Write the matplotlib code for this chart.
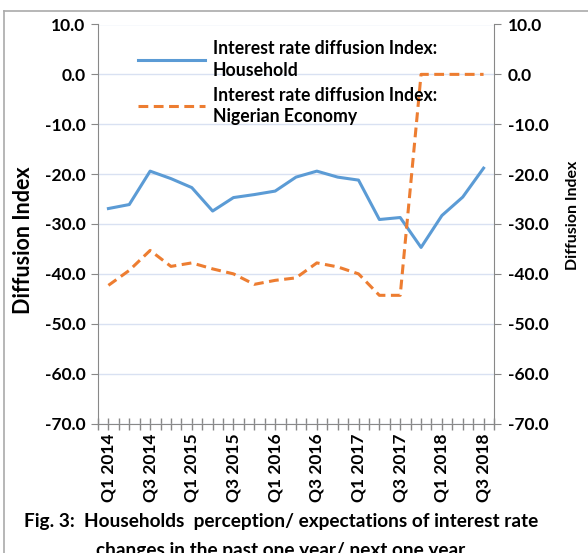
import matplotlib
matplotlib.use('Agg')
import matplotlib.pyplot as plt
from matplotlib.ticker import MultipleLocator, FixedLocator
import numpy as np

plt.rcParams['font.family'] = ['Lato', 'DejaVu Sans']
plt.rcParams['font.weight'] = 'bold'

quarters = ['Q1 2014', 'Q2 2014', 'Q3 2014', 'Q4 2014',
            'Q1 2015', 'Q2 2015', 'Q3 2015', 'Q4 2015',
            'Q1 2016', 'Q2 2016', 'Q3 2016', 'Q4 2016',
            'Q1 2017', 'Q2 2017', 'Q3 2017', 'Q4 2017',
            'Q1 2018', 'Q2 2018', 'Q3 2018']
household = [-26.9, -26.1, -19.4, -20.9, -22.7, -27.4, -24.7, -24.1, -23.4,
             -20.6, -19.4, -20.6, -21.2, -29.1, -28.7, -34.7, -28.3, -24.6, -18.8]
economy = [-42.3, -39.3, -35.3, -38.5, -37.8, -39.0, -40.0, -42.1, -41.3,
           -40.8, -37.8, -38.6, -40.0, -44.3, -44.3, 0.0, 0.0, 0.0, 0.0]

W, H = 588, 553
fig = plt.figure(figsize=(W/100, H/100), dpi=100)
ax = fig.add_axes([98/W, 1-423.5/H, (494-98)/W, (423.5-24.5)/H])

x = np.arange(len(quarters))
ax.plot(x, household, color='#5B9BD5', lw=2.2,
        label='Interest rate diffusion Index:\nHousehold')
ax.plot(x, economy, color='#ED7D31', lw=2.2, ls=(0, (3.2, 1.8)),
        label='Interest rate diffusion Index:\nNigerian Economy')

ax.set_xlim(-0.5, len(quarters)-0.5)
ax.set_ylim(-70, 10)
ax.yaxis.set_major_locator(MultipleLocator(10))
ax.yaxis.set_major_formatter(lambda v, p: f'{v:.1f}')
ax.grid(axis='y', color='#D9E1F2', lw=1)
ax.set_axisbelow(True)

# ticks at every half quarter, labels on every other quarter
tick_pos = np.arange(-0.5, len(quarters), 0.5)
tick_lab = []
for t in tick_pos:
    if t >= 0 and t == int(t) and int(t) % 2 == 0:
        tick_lab.append(quarters[int(t)])
    else:
        tick_lab.append('')
ax.xaxis.set_major_locator(FixedLocator(tick_pos))
ax.set_xticklabels(tick_lab, rotation=90)
ax.tick_params(axis='x', direction='inout', length=8, color='#888888',
               width=1, pad=3, labelsize=12.5)
ax.tick_params(axis='y', direction='out', length=5, color='#888888',
               labelsize=12.5, pad=4)

for s in ['top', 'right']:
    ax.spines[s].set_visible(False)
for s in ['left', 'bottom']:
    ax.spines[s].set_color('#888888')

ax2 = ax.twinx()
ax2.set_ylim(-70, 10)
ax2.yaxis.set_major_locator(MultipleLocator(10))
ax2.yaxis.set_major_formatter(lambda v, p: f'{v:.1f}')
ax2.tick_params(axis='y', direction='out', length=5, color='#888888',
                labelsize=12.5, pad=5)
for s in ['top', 'left', 'bottom']:
    ax2.spines[s].set_visible(False)
ax2.spines['right'].set_color('#888888')

fig.text(24/W, 1-240/H, 'Diffusion Index', rotation=90, ha='center',
         va='center', fontsize=15.5, fontweight='bold')
fig.text(573/W, 1-215/H, 'Diffusion Index', rotation=90, ha='center',
         va='center', fontsize=11.5, fontweight='bold')

leg = ax.legend(loc='upper left', bbox_to_anchor=(0.06, 1.0), frameon=False,
                fontsize=12.7, handlelength=3.8, labelspacing=0.45,
                handletextpad=0.45)
for t in leg.get_texts():
    t.set_linespacing(1.3)

fig.text(281/W, 1-527/H, 'Fig. 3:  Households  perception/ expectations of interest rate',
         ha='center', va='baseline', fontsize=13.7, fontweight='bold')
fig.text(281/W, 1-556/H, 'changes in the past one year/ next one year',
         ha='center', va='baseline', fontsize=13.7, fontweight='bold')

fig.add_artist(plt.Line2D([4/W, 4/W], [0, 1-11/H], color='#AAAAAA', lw=1.2))
fig.add_artist(plt.Line2D([4/W, 1], [1-11/H, 1-11/H], color='#AAAAAA', lw=1.2))

fig.savefig('out.png', dpi=100)
